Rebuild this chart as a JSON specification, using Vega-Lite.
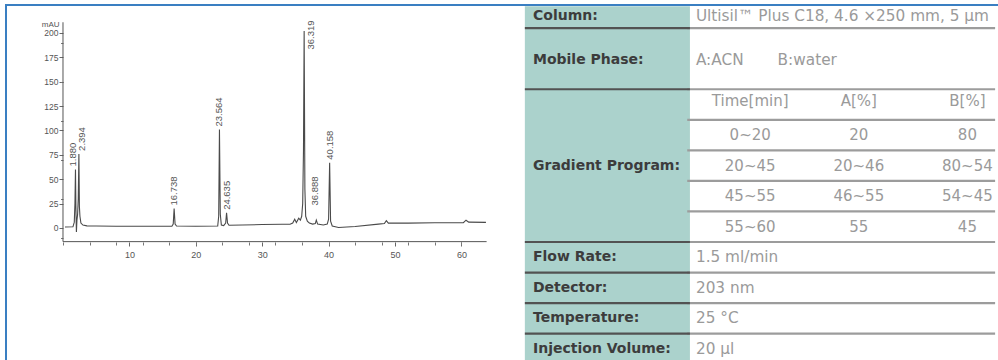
{
  "$schema": "https://vega.github.io/schema/vega-lite/v6.json",
  "width": 996,
  "height": 359,
  "autosize": {"type": "none"},
  "padding": {"left": 6, "top": 5, "right": -4, "bottom": -4},
  "background": "white",
  "config": {
    "view": {"stroke": "#3a7fc2", "strokeWidth": 2},
    "axis": {"labelFont": "Liberation Sans", "titleFont": "Liberation Sans"}
  },
  "datasets": {
    "trace": [
      {"t": 0.3, "v": 1}, {"t": 1.5, "v": 1.2}, {"t": 1.7, "v": 6}, {"t": 1.8, "v": 25}, {"t": 1.88, "v": 60},
      {"t": 1.95, "v": 18}, {"t": 2.02, "v": -4}, {"t": 2.1, "v": 8}, {"t": 2.2, "v": 14}, {"t": 2.3, "v": 30},
      {"t": 2.394, "v": 76}, {"t": 2.47, "v": 22}, {"t": 2.55, "v": 12}, {"t": 2.7, "v": 5}, {"t": 3.0, "v": 3},
      {"t": 3.6, "v": 2.2}, {"t": 5, "v": 2}, {"t": 8, "v": 1.8}, {"t": 12, "v": 1.8}, {"t": 16.4, "v": 1.8},
      {"t": 16.6, "v": 4}, {"t": 16.738, "v": 20}, {"t": 16.88, "v": 4}, {"t": 17.1, "v": 2}, {"t": 20, "v": 1.8},
      {"t": 23.3, "v": 2}, {"t": 23.45, "v": 12}, {"t": 23.564, "v": 101}, {"t": 23.69, "v": 14}, {"t": 23.85, "v": 3},
      {"t": 24.2, "v": 2.5}, {"t": 24.5, "v": 5}, {"t": 24.635, "v": 15.5}, {"t": 24.78, "v": 5}, {"t": 25.0, "v": 2.8},
      {"t": 27, "v": 3}, {"t": 30, "v": 3.5}, {"t": 33, "v": 3.8}, {"t": 34.2, "v": 3.8}, {"t": 34.6, "v": 5},
      {"t": 34.9, "v": 9}, {"t": 35.15, "v": 5.5}, {"t": 35.5, "v": 10}, {"t": 35.75, "v": 8}, {"t": 35.95, "v": 12},
      {"t": 36.1, "v": 25}, {"t": 36.22, "v": 80}, {"t": 36.319, "v": 202}, {"t": 36.43, "v": 40}, {"t": 36.55, "v": 12},
      {"t": 36.8, "v": 7}, {"t": 37.1, "v": 5}, {"t": 37.6, "v": 4}, {"t": 38.0, "v": 4.5}, {"t": 38.15, "v": 8},
      {"t": 38.35, "v": 4}, {"t": 39.2, "v": 3}, {"t": 39.8, "v": 4}, {"t": 40.0, "v": 9}, {"t": 40.158, "v": 67},
      {"t": 40.3, "v": 7}, {"t": 40.55, "v": 2}, {"t": 41.5, "v": 0.5}, {"t": 44, "v": 1.5}, {"t": 47.5, "v": 4},
      {"t": 48.4, "v": 4.5}, {"t": 48.7, "v": 7.5}, {"t": 49.0, "v": 5}, {"t": 52, "v": 5}, {"t": 56, "v": 5.3},
      {"t": 60.3, "v": 5.5}, {"t": 60.7, "v": 8}, {"t": 61.1, "v": 6}, {"t": 63.7, "v": 5.8}
    ],
    "peaks": [
      {"rt": 1.88, "height": 60, "label": "1.880"},
      {"rt": 2.394, "height": 76, "label": "2.394"},
      {"rt": 16.738, "height": 20, "label": "16.738"},
      {"rt": 23.564, "height": 101, "label": "23.564"},
      {"rt": 24.635, "height": 15.5, "label": "24.635"},
      {"rt": 36.319, "height": 202, "label": "36.319"},
      {"rt": 36.888, "height": 20, "label": "36.888"},
      {"rt": 40.158, "height": 67, "label": "40.158"}
    ],
    "dividers": [
      {"b": 0.5, "full": true}, {"b": 2.5, "full": true}, {"b": 3.5, "full": false}, {"b": 4.5, "full": false},
      {"b": 5.5, "full": false}, {"b": 6.5, "full": false}, {"b": 7.5, "full": true}, {"b": 8.5, "full": true},
      {"b": 9.5, "full": true}, {"b": 10.5, "full": true}
    ],
    "cells": [
      {"kind": "label", "row": 0.1, "col": 0, "text": "Column:"},
      {"kind": "label", "row": 1.55, "col": 0, "text": "Mobile Phase:"},
      {"kind": "label", "row": 5, "col": 0, "text": "Gradient Program:"},
      {"kind": "label", "row": 8, "col": 0, "text": "Flow Rate:"},
      {"kind": "label", "row": 9, "col": 0, "text": "Detector:"},
      {"kind": "label", "row": 10, "col": 0, "text": "Temperature:"},
      {"kind": "label", "row": 11, "col": 0, "text": "Injection Volume:"},
      {"kind": "value", "row": 0.1, "col": 3, "text": "Ultisil™ Plus C18, 4.6 ×250 mm, 5 μm"},
      {"kind": "value", "row": 1.55, "col": 3, "text": "A:ACN\u00a0\u00a0\u00a0\u00a0\u00a0\u00a0\u00a0B:water"},
      {"kind": "value", "row": 8, "col": 3, "text": "1.5 ml/min"},
      {"kind": "value", "row": 9, "col": 3, "text": "203 nm"},
      {"kind": "value", "row": 10, "col": 3, "text": "25 °C"},
      {"kind": "value", "row": 11, "col": 3, "text": "20 μl"},
      {"kind": "grid", "row": 2.9, "col": 4, "text": "Time[min]"},
      {"kind": "grid", "row": 2.9, "col": 6, "text": "A[%]"},
      {"kind": "grid", "row": 2.9, "col": 8, "text": "B[%]"},
      {"kind": "grid", "row": 4, "col": 4, "text": "0~20"},
      {"kind": "grid", "row": 4, "col": 6, "text": "20"},
      {"kind": "grid", "row": 4, "col": 8, "text": "80"},
      {"kind": "grid", "row": 5, "col": 4, "text": "20~45"},
      {"kind": "grid", "row": 5, "col": 6, "text": "20~46"},
      {"kind": "grid", "row": 5, "col": 8, "text": "80~54"},
      {"kind": "grid", "row": 6, "col": 4, "text": "45~55"},
      {"kind": "grid", "row": 6, "col": 6, "text": "46~55"},
      {"kind": "grid", "row": 6, "col": 8, "text": "54~45"},
      {"kind": "grid", "row": 7, "col": 4, "text": "55~60"},
      {"kind": "grid", "row": 7, "col": 6, "text": "55"},
      {"kind": "grid", "row": 7, "col": 8, "text": "45"}
    ]
  },
  "layer": [
    {
      "layer": [
        {
          "data": {"name": "trace"},
          "mark": {"type": "line", "color": "#4a4a4a", "strokeWidth": 1.1},
          "encoding": {
            "x": {
              "field": "t", "type": "quantitative",
              "scale": {"domain": [-8.584, 141.42], "nice": false, "zero": false},
              "axis": {
                "values": [10, 20, 30, 40, 50, 60],
                "orient": "bottom", "offset": -122, "domain": false, "grid": false, "tickSize": 4, "tickColor": "#666",
                "labelColor": "#555", "labelFontSize": 9, "labelPadding": 4, "labelOverlap": false, "labelFlush": false,
                "title": null
              }
            },
            "y": {
              "field": "v", "type": "quantitative",
              "scale": {"domain": [-139.5, 228.7], "nice": false, "zero": false},
              "axis": {
                "values": [0, 25, 50, 75, 100, 125, 150, 175, 200],
                "orient": "left", "offset": -57, "domain": false, "grid": false, "tickSize": 4, "tickColor": "#666",
                "labelColor": "#555", "labelFontSize": 8.5, "labelPadding": 1, "labelOverlap": false, "labelFlush": false,
                "title": "mAU", "titleAngle": 0, "titleAlign": "right", "titleBaseline": "middle",
                "titleX": -4, "titleY": 19, "titleFontSize": 8, "titleFontWeight": "normal", "titleColor": "#555"
              }
            }
          }
        },
        {
          "data": {"name": "peaks"},
          "transform": [
            {"calculate": "min(datum.height, 180)", "as": "ly"},
            {"calculate": "datum.rt + (datum.label == '1.880' ? -0.4 : datum.label == '2.394' ? 0.45 : (datum.rt > 36 && datum.rt < 37) ? 1.0 : 0)", "as": "lx"}
          ],
          "mark": {"type": "text", "angle": 270, "align": "left", "baseline": "middle", "dx": 3, "fontSize": 9.5, "font": "Liberation Sans", "color": "#555"},
          "encoding": {
            "x": {"field": "lx", "type": "quantitative"},
            "y": {"field": "ly", "type": "quantitative"},
            "text": {"field": "label"}
          }
        }
      ]
    },
    {
      "layer": [
        {
          "data": {"values": [{}]},
          "mark": {"type": "rule", "color": "#555", "strokeWidth": 1},
          "encoding": {
            "x": {
              "datum": 0,
              "scale": {"domain": [-8.584, 141.42], "nice": false, "zero": false},
              "axis": {
                "values": [0, 2, 4, 6, 8, 10, 12, 14, 16, 18, 20, 22, 24, 26, 28, 30, 32, 34, 36, 38, 40, 42, 44, 46, 48, 50, 52, 54, 56, 58, 60, 62],
                "orient": "bottom", "offset": -122, "labels": false, "domain": false, "grid": false,
                "tickSize": 3, "tickColor": "#777", "title": null
              }
            },
            "y": {
              "datum": -14,
              "scale": {"domain": [-139.5, 228.7], "nice": false, "zero": false},
              "axis": {
                "values": [-10, -5, 0, 5, 10, 15, 20, 25, 30, 35, 40, 45, 50, 55, 60, 65, 70, 75, 80, 85, 90, 95, 100, 105, 110, 115, 120, 125, 130, 135, 140, 145, 150, 155, 160, 165, 170, 175, 180, 185, 190, 195, 200, 205, 210],
                "orient": "left", "offset": -57, "labels": false, "domain": false, "grid": false,
                "tickSize": 2.5, "tickColor": "#777", "title": null
              }
            },
            "y2": {"datum": 211}
          }
        },
        {
          "data": {"values": [{}]},
          "mark": {"type": "rule", "color": "#555", "strokeWidth": 1},
          "encoding": {"x": {"datum": 0}, "x2": {"datum": 63.8}, "y": {"datum": -14}}
        }
      ]
    },
    {
      "layer": [
        {
          "data": {"values": [{}]},
          "mark": {"type": "rect", "color": "#abd2cc"},
          "encoding": {
            "x": {"datum": -0.15, "scale": {"domain": [-9.705, 8.637], "nice": false, "zero": false}, "axis": {"labels": false, "ticks": false, "domain": false, "grid": false, "title": null}},
            "x2": {"datum": 2.89},
            "y": {"datum": -0.22, "scale": {"domain": [-0.257, 11.492], "nice": false, "zero": false, "reverse": true}, "axis": {"labels": false, "ticks": false, "domain": false, "grid": false, "title": null}},
            "y2": {"datum": 11.49}
          }
        },
        {
          "data": {"name": "dividers"},
          "mark": {"type": "rule", "color": "#9c9c9c", "strokeWidth": 2.2},
          "encoding": {
            "x": {"datum": 2.84}, "x2": {"datum": 8.51},
            "y": {"field": "b", "type": "quantitative"}
          }
        },
        {
          "data": {"name": "dividers"},
          "transform": [{"filter": "datum.full"}],
          "mark": {"type": "rule", "color": "#525252", "strokeWidth": 2.2},
          "encoding": {
            "x": {"datum": -0.15}, "x2": {"datum": 2.89},
            "y": {"field": "b", "type": "quantitative"}
          }
        },
        {
          "data": {"name": "cells"},
          "transform": [{"filter": "datum.kind == 'label'"}],
          "mark": {"type": "text", "align": "left", "baseline": "middle", "font": "DejaVu Sans", "fontWeight": "bold", "fontSize": 14, "color": "#3c3c3c"},
          "encoding": {
            "x": {"field": "col", "type": "quantitative"},
            "y": {"field": "row", "type": "quantitative"},
            "text": {"field": "text"}
          }
        },
        {
          "data": {"name": "cells"},
          "transform": [{"filter": "datum.kind == 'value'"}],
          "mark": {"type": "text", "align": "left", "baseline": "middle", "font": "DejaVu Sans", "fontSize": 15.3, "color": "#9a9a9a"},
          "encoding": {
            "x": {"field": "col", "type": "quantitative"},
            "y": {"field": "row", "type": "quantitative"},
            "text": {"field": "text"}
          }
        },
        {
          "data": {"name": "cells"},
          "transform": [{"filter": "datum.kind == 'grid'"}],
          "mark": {"type": "text", "align": "center", "baseline": "middle", "font": "DejaVu Sans", "fontSize": 15, "color": "#9a9a9a"},
          "encoding": {
            "x": {"field": "col", "type": "quantitative"},
            "y": {"field": "row", "type": "quantitative"},
            "text": {"field": "text"}
          }
        }
      ]
    }
  ],
  "resolve": {"scale": {"x": "independent", "y": "independent"}}
}
